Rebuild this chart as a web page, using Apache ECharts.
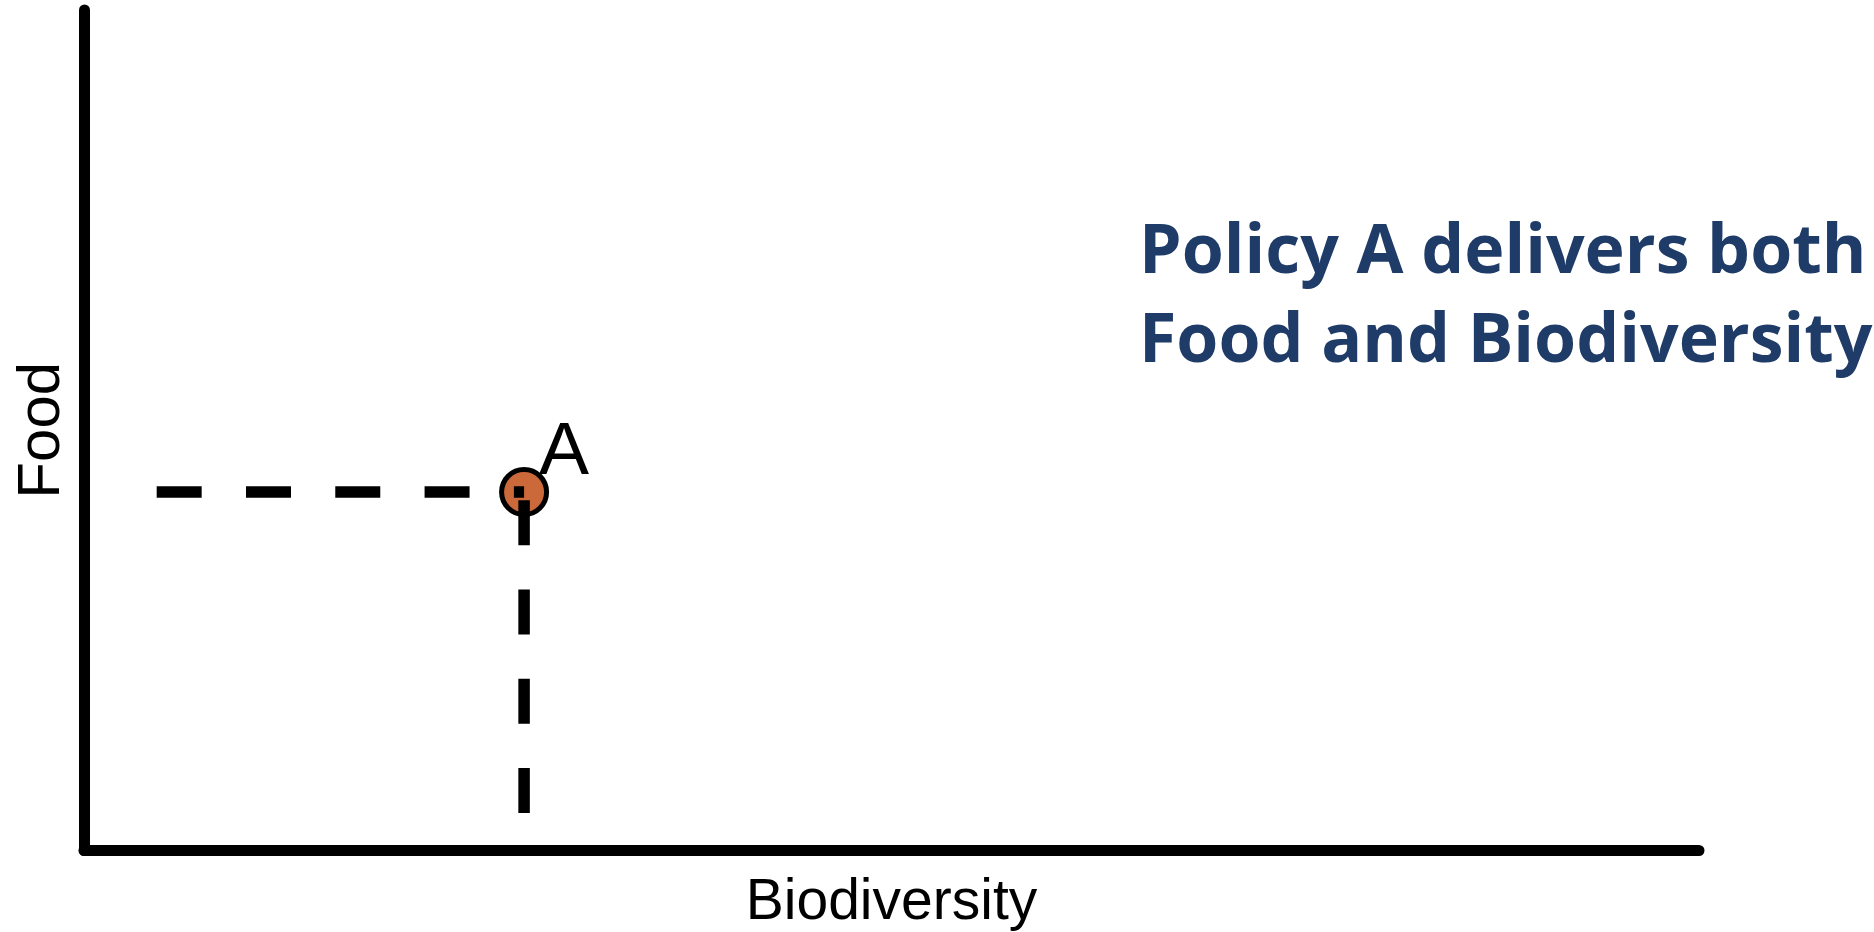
<!DOCTYPE html>
<html>
<head>
<meta charset="utf-8">
<script src="https://cdn.jsdelivr.net/npm/echarts@6/dist/echarts.min.js"></script>
<style>
html,body{margin:0;padding:0;background:#fff;}
#chart{width:1874px;height:932px;}
</style>
</head>
<body>
<div id="chart"></div>
<script>
// ---- data ----
const xAxisName = 'Biodiversity';
const yAxisName = 'Food';
const axisMin = 0;
const axisMax = 100;
const pointName = 'A';
const pointA = [27.25, 42.65];          // [Biodiversity, Food]
const hGuideStartX = 4.5;               // where the horizontal dashed guide begins
const vGuideStartY = 4.45;              // where the vertical dashed guide begins
const titleLines = ['Policy A delivers both', 'Food and Biodiversity'];

// ---- chart ----
const chart = echarts.init(document.getElementById('chart'), null, {renderer: 'canvas'});
const dash = [45, 44.3];
const option = {
  backgroundColor: '#ffffff',
  animation: false,
  title: {
    text: titleLines.join('\n'),
    left: 1139,
    top: 209,
    padding: 0,
    textStyle: {
      fontFamily: 'Open Sans',
      fontWeight: 'bold',
      fontSize: 68,
      lineHeight: 89,
      color: '#1F3B68'
    }
  },
  grid: {left: 84, right: 175, top: 10, bottom: 81.5, containLabel: false, outerBoundsMode: 'none'},
  xAxis: {
    type: 'value', min: axisMin, max: axisMax,
    name: xAxisName, nameLocation: 'middle', nameGap: 24,
    nameTextStyle: {fontFamily: 'Liberation Sans', fontSize: 57, color: '#000'},
    axisLine: {show: true, lineStyle: {color: '#000', width: 11}},
    axisTick: {show: false}, axisLabel: {show: false}, splitLine: {show: false}
  },
  yAxis: {
    type: 'value', min: axisMin, max: axisMax,
    name: yAxisName, nameLocation: 'middle', nameGap: 12,
    nameTextStyle: {fontFamily: 'Liberation Sans', fontSize: 60, color: '#000'},
    axisLine: {show: true, lineStyle: {color: '#000', width: 11}},
    axisTick: {show: false}, axisLabel: {show: false}, splitLine: {show: false}
  },
  series: [
    {
      type: 'scatter',
      data: [{name: pointName, value: pointA}],
      symbol: 'circle',
      symbolSize: 45,
      itemStyle: {color: '#CB693A', borderColor: '#000', borderWidth: 5, opacity: 1},
      label: {
        show: true, formatter: '{b}', position: 'right', distance: 0,
        offset: [-10, -39],
        fontFamily: 'Liberation Sans', fontSize: 75, color: '#000'
      },
      z: 2
    },
    {
      type: 'line',
      data: [[hGuideStartX, pointA[1]], [pointA[0], pointA[1]]],
      symbol: 'none',
      lineStyle: {color: '#000', width: 11.5, type: dash, cap: 'butt'},
      z: 3
    },
    {
      type: 'line',
      data: [[pointA[0], vGuideStartY], [pointA[0], pointA[1]]],
      symbol: 'none',
      lineStyle: {color: '#000', width: 11.5, type: dash, cap: 'butt'},
      z: 3
    }
  ]
};
chart.setOption(option);
</script>
</body>
</html>
